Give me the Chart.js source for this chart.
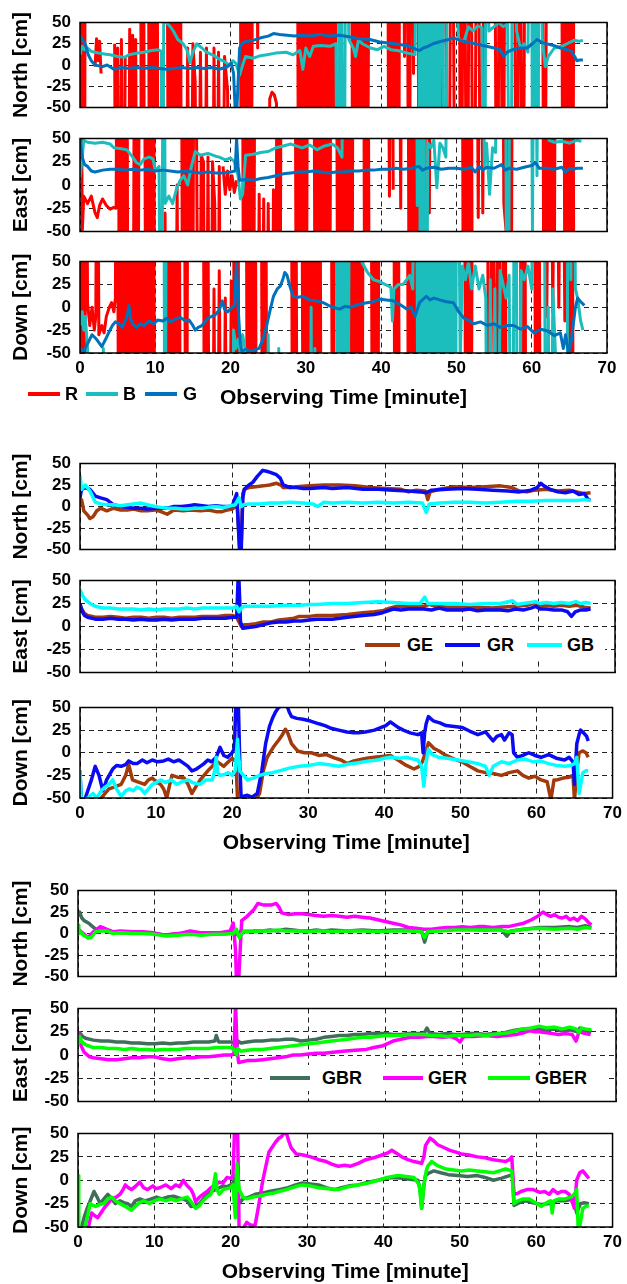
<!DOCTYPE html>
<html><head><meta charset="utf-8">
<script src="https://cdn.jsdelivr.net/npm/chart.js@4/dist/chart.umd.min.js"></script>
<style>
html,body{margin:0;padding:0;background:#fff;}
body{width:627px;height:1284px;position:relative;overflow:hidden;font-family:'Liberation Sans',Arial,sans-serif;}
canvas{position:absolute;left:0;}
.lg{position:absolute;height:22px;line-height:22px;font-size:18px;font-weight:bold;color:#000;white-space:nowrap;}
.ll{position:absolute;height:4px;}
.box{position:absolute;background:#fff;}
</style></head><body>
<script>
// ---------- tick labels / axes ----------
const X_TICKS = [0,10,20,30,40,50,60,70];
const Y_TICKS = [-50,-25,0,25,50];
const X_TITLE = 'Observing Time [minute]';

// ---------- Group 1 (R, B, G) ; +/-400 = off-scale ----------
const R1_N = [[0,400],[0.2,-400],[0.4,400],[0.6,-400],[0.7,400],null,
[2,-2],[2.2,31],[2.4,5],[2.6,28],[2.8,-10],null,
[4.6,25],[4.8,-400],[5,20],[5.2,-400],[5.5,30],[5.8,-400],[6,10],null,
[6.4,-400],[6.6,42],[6.8,-400],[7,35],[7.2,-400],[7.4,30],[7.6,-400],null,
[8,400],[8.2,-400],[8.4,400],[8.6,-400],null,
[9,400],[9.3,-400],[9.6,400],[9.9,-400],[10.2,400],[10.4,-400],null,
[11.5,400],[11.8,-400],[12.1,400],[12.4,-400],[12.7,400],[13,-400],[13.3,400],[13.5,-400],null,
[14,-400],[14.3,20],[14.6,-400],[15,25],[15.3,-20],[15.6,-400],[16,15],[16.4,-400],[16.8,20],[17,-400],null,
[17.5,-400],[17.8,20],[18.1,-400],[18.4,15],[18.8,-400],[19.2,10],[19.6,-30],[20,-400],null,
[21.2,400],[21.5,-400],[21.8,400],[22.1,-400],[22.4,400],[22.7,-400],[23,400],null,
[23.4,400],[23.6,20],[23.8,400],null,
[25,-400],[25.2,-40],[25.5,-32],[25.8,-35],[26.1,-45],[26.3,-400],null,
[28.8,400],[29.1,-400],[29.4,400],[29.7,-400],[30,400],[30.3,-400],[30.6,400],[30.9,-400],[31.2,400],[31.5,-400],[31.8,400],[32.1,-400],[32.4,400],[32.7,-400],[33,400],[33.3,-400],[33.6,400],[33.9,-400],[34.1,400],null,
[36,400],[36.3,-400],[36.6,400],[36.9,-400],[37.2,400],[37.5,-400],[37.8,400],[38.1,-400],[38.5,400],null,
[40.8,400],[41.1,-400],[41.4,400],[41.7,-400],[42,400],[42.3,-400],[42.5,400],null,
[42.8,400],[43.1,10],[43.4,400],[43.7,-400],[44,400],[44.3,-10],[44.5,400],null,
[44.8,400],[45.1,-400],[45.5,400],[45.9,-400],[46.4,400],[46.9,-400],[47.4,400],[47.9,-400],[48.4,400],[48.9,-400],[49.4,400],[49.9,-400],null,
[50.3,400],[50.6,-400],[51,400],[51.4,-400],[51.8,400],[52.3,-400],[52.8,400],[53.3,-400],[53.8,400],null,
[55,400],[55.4,-400],[55.8,400],[56.2,-400],[56.5,400],null,
[57.6,400],[58,-400],[58.4,400],[58.8,-400],[59.2,400],null,
[61.3,400],[61.7,-400],[62.1,400],null,
[63.9,400],[64.2,-400],[64.5,400],[64.8,-400],[65.1,400],[65.4,-400],[65.7,400]];

const B1_N = [[0,12],[0.3,22],[0.6,18],[1,20],[1.5,16],[2,15],[2.5,14],[3.2,13],[4,12],[5,10],[5.9,9],[6.5,12],[7.6,14],[8.5,15],[9.5,17],[10.4,18],[10.8,16],[11,-400],[11.2,400],[11.5,50],[12,45],[12.4,40],[13,30],[13.7,25],[14.2,18],[14.6,3],[15,15],[15.5,25],[16.2,20],[16.8,15],[17.6,12],[18.5,7],[19.2,4],[19.8,0],[20.3,5],[20.7,2],[21.2,-12],[21.6,0],[22,10],[23,8],[24,11],[24.8,12],[26,14],[27.4,15],[28.3,12],[29.2,17],[29.6,-5],[30,20],[30.5,10],[31,22],[32,23],[33.2,22],[34,25],[34.3,-400],[34.6,400],[35,-400],[35.4,400],[35.7,30],[36.3,20],[36.6,10],[37,30],[37.5,25],[38.6,20],[39.5,18],[40.4,22],[41.3,18],[42.2,17],[43.5,14],[44.5,12],[44.9,400],[45.2,-400],[45.5,400],[45.8,-400],[46.1,400],[46.4,-400],[46.8,400],[47.1,-400],[47.4,400],[47.7,-400],[48,400],[48.5,-400],[48.9,400],[49.4,70],[50,80],[50.3,30],[51,28],[51.6,45],[52.2,40],[52.8,46],[53.4,44],[53.7,-400],[54,400],[54.3,40],[55,45],[55.6,50],[56.2,45],[56.8,48],[57.2,-400],[57.5,400],[58,40],[58.5,20],[59,25],[59.5,15],[59.9,400],[60.2,-400],[60.5,400],[60.8,-400],[61,400],[61.4,30],[61.8,-2],[62.2,10],[63,20],[64,22],[64.7,25],[65.6,29],[66.3,28],[66.8,29]];

const G1_N = [[0,35],[0.3,30],[0.7,25],[1.1,12],[1.5,5],[2,0],[2.5,-1],[3,-2],[3.6,0],[4.5,-5],[5.5,-3],[6.5,-4],[7.5,-3],[8.5,-4],[9.5,-3],[10.5,-4],[11.5,-5],[12.5,-4],[13.5,-3],[14.5,-4],[15.5,-3],[16.5,-4],[17.5,-3],[18.5,-5],[19.6,-2],[20.1,2],[20.4,-10],[20.6,-50],[20.8,-60],[21,-20],[21.2,20],[21.5,25],[21.8,27],[23,29],[24,32],[25,34],[25.7,37],[26.5,36],[27.5,35],[28.5,34],[29.3,35],[30.5,34],[31.9,36],[33,34],[34.5,35],[35.9,33],[37,31],[38.5,30],[39.8,27],[41,26],[42.5,24],[43.8,22],[44.5,19],[45.1,17],[45.6,20],[46.2,22],[46.9,25],[48,28],[49,30],[49.6,32],[50.5,29],[51.4,27],[52.5,25],[54,22],[55,20],[55.8,18],[56.3,10],[56.7,15],[57.5,18],[58.5,20],[59.4,20],[60.1,25],[60.7,30],[61.5,26],[62.9,23],[63.8,20],[64.7,18],[65.3,16],[65.7,10],[66,5],[66.4,6],[66.8,6]];

const R1_E = [[0,400],[0.3,-50],[0.5,-12],[1,-20],[1.5,-12],[2,-30],[2.3,-35],[2.6,-22],[3,-15],[3.5,-22],[4,-26],[4.5,-24],[4.8,-25],[5,400],[5.3,-400],[5.6,400],[5.9,-400],[6.2,400],[6.4,-400],null,
[7,-400],[7.3,400],[7.6,-400],[8,400],null,
[8.5,400],[8.8,-400],[9.1,400],[9.4,-400],[9.7,400],[10,-400],null,
[10.8,-25],[11.1,-400],[11.3,-30],[11.5,-400],null,
[12.6,-400],[12.9,0],[13.2,-400],null,
[13.4,400],[13.7,-400],[14,400],[14.3,-400],[14.6,400],[14.9,-400],[15.2,400],[15.5,30],[15.8,-400],[16.1,32],[16.4,25],[16.7,-400],[17,30],[17.3,-400],[17.6,25],[17.9,-20],[18.2,-400],[18.5,20],[18.8,-400],null,
[19,20],[19.3,-10],[19.6,15],[19.9,-5],[20.2,10],[20.5,-8],[20.8,5],null,
[21.5,400],[21.8,-400],[22.1,400],[22.4,-400],[22.7,400],[23,-400],[23.3,400],null,
[23.5,-400],[23.8,-10],[24.1,-400],[24.4,-15],[24.7,-400],[25,-20],[25.4,-400],[25.7,-5],[26,-400],[26.2,400],[26.5,-400],[26.8,400],null,
[28.5,400],[28.8,-400],[29.1,400],[29.4,-400],[29.7,400],[30,-400],[30.3,400],null,
[31,400],[31.3,-400],[31.6,400],[31.9,-400],[32.2,400],[32.5,-400],[32.8,400],[33.1,-400],[33.4,400],null,
[34,400],[34.3,-400],[34.6,400],[34.9,-400],[35.2,400],[35.5,-400],[35.8,400],[36.1,-400],[36.3,400],null,
[37.6,400],[37.9,-400],[38.2,400],[38.5,-400],null,
[40.8,400],[41.1,-12],[41.4,400],[41.6,-5],null,
[42.3,400],[42.6,-25],[42.8,400],null,
[43.5,400],[43.8,-400],[44.1,400],[44.4,-400],[44.7,400],[45,-400],null,
[45.5,400],[45.8,-35],[46.1,400],[46.4,-30],[46.7,400],null,
[50.7,400],[51,-400],[51.3,400],[51.6,-400],[51.9,400],[52.2,-400],null,
[52.6,400],[52.9,-35],[53.2,400],[53.5,-30],[53.8,400],null,
[56,400],[56.3,-20],[56.6,-50],[56.9,400],[57.2,-400],[57.5,400],null,
[61.4,400],[61.7,-400],[62,400],[62.3,-400],[62.6,400],[62.9,-400],[63.2,400],null,
[64.2,400],[64.5,-400],[64.8,400],[65.1,-400],[65.4,400],[65.7,-400]];

const B1_E = [[0,8],[0.3,30],[0.5,48],[1,46],[2,45],[3,46],[4,44],[4.5,40],[5.5,39],[6.2,38],[7,30],[7.5,24],[8,22],[8.5,28],[9.2,30],[9.7,28],[10,15],[10.5,20],[10.8,-400],[11.1,400],[11.3,-20],[11.8,-12],[12.3,-20],[12.8,-5],[13.3,5],[13.8,10],[14.3,0],[14.8,20],[15.3,36],[16,32],[17,34],[18,31],[18.5,30],[19.3,27],[20,29],[20.5,25],[21,10],[21.3,-15],[21.6,-10],[22,32],[23,33],[24,35],[25,36],[26,40],[27,42],[28,44],[29.5,40],[30.5,43],[31.5,38],[32.5,42],[33.5,44],[34.2,40],[34.8,30],[35.2,400],null,
[44.6,400],[44.8,-22],[45,400],[45.3,-400],[45.6,400],[45.9,-400],[46.2,45],[46.6,40],[47,48],[47.4,-3],[47.8,45],[48.2,40],[48.6,30],[48.9,400],null,
[53.4,400],[53.7,20],[54,45],[54.4,-10],[54.8,40],[55.2,35],[55.5,400],null,
[56.4,400],[56.8,-400],[57.2,400],null,
[59.8,400],[60.1,-50],[60.4,400],[60.7,10],[61,400],null,
[61.9,400],[62.3,48],[63,46],[64,47],[65,45],[66,48],[66.6,47]];

const G1_E = [[0,50],[0.3,30],[0.6,22],[1,20],[1.5,15],[2,14],[3,16],[4,17],[5,17],[6,16],[7,17],[8,16],[9,17],[10,15],[11,16],[12,15],[13,14],[14,15],[15,14],[16,13],[17,14],[18,13],[19,13],[20,14],[20.6,15],[20.8,50],[21,20],[21.2,5],[22,6],[23,5],[24,7],[25,8],[26,10],[27,12],[28,13],[29,14],[30,14],[31,15],[32,14],[33,13],[34,14],[35,14],[36,15],[37,15],[38,16],[39,16],[40,17],[41,17],[42,18],[43,17],[44,18],[45,20],[45.5,16],[46,18],[47,19],[48,17],[49,18],[50,18],[51,17],[52,19],[52.5,14],[53,20],[53.5,16],[54,19],[55,18],[56,22],[56.5,16],[57,18],[58,17],[59,19],[60,21],[60.5,24],[61,18],[62,18],[63,17],[64,19],[64.5,14],[65,18],[65.5,17],[66,18],[66.8,18]];

const R1_D = [[0,400],[0.2,-400],[0.4,400],[0.6,-400],[0.8,400],[1,5],[1.3,-20],[1.6,0],[1.9,-25],[2.1,-10],[2.3,400],[2.5,-30],[2.9,-20],[3.2,-28],[3.5,-10],[3.9,0],[4.2,5],[4.5,-5],[4.7,10],[4.9,400],[5.2,-400],[5.5,400],[5.8,-400],[6.1,400],[6.4,-400],[6.7,400],[7,-400],[7.3,400],[7.6,-400],[7.9,400],[8.2,-400],[8.5,400],[8.8,-400],[9.1,400],[9.4,-400],[9.7,400],[10,-400],null,
[11.3,400],[11.6,-400],[11.9,400],[12.2,-400],[12.5,400],[12.8,-400],[13.1,400],[13.4,-400],null,
[13.8,400],[14.1,-400],[14.4,400],null,
[16.3,400],[16.6,-400],[16.9,400],[17.2,-400],null,
[17.5,-400],[17.8,20],[18.1,-400],[18.5,40],[18.9,-400],[19.3,10],[19.7,-400],[20.1,30],null,
[20.3,400],[20.6,-400],[20.9,400],[21.2,-400],null,
[22,400],[22.3,-400],[22.6,400],[22.9,-400],[23.2,400],[23.5,-400],null,
[24,400],[24.3,-400],[24.6,400],[24.9,-400],null,
[28,400],[28.3,-400],[28.6,400],[28.9,-400],null,
[29.4,400],[29.7,-400],[30,400],[30.3,-400],[30.6,400],[30.9,-400],[31.2,400],[31.5,-400],[31.8,400],[32.1,-400],null,
[33.3,400],[33.6,-400],[33.9,400],null,
[35.9,400],[36.2,-400],[36.5,400],[36.8,-400],[37.1,400],[37.4,-400],[37.7,400],null,
[38.6,400],[38.9,-400],[39.2,400],[39.5,-400],[39.8,400],null,
[41.6,400],[41.9,-400],[42.2,400],[42.5,-400],null,
[43.4,400],[43.7,-400],[44,400],[44.3,-400],[44.6,400],null,
[48.4,400],[48.7,-20],[49,400],[49.3,-40],null,
[51,400],[51.3,-400],[51.6,400],[51.9,-400],[52.2,400],null,
[54,400],[54.4,-400],[54.8,400],[55.2,-400],[55.6,400],[56,-400],[56.4,400],[56.7,-400],null,
[58.4,400],[58.7,-400],[59,400],[59.3,-400],null,
[60.3,400],[60.6,-400],[60.9,400],[61.2,-400],null,
[61.6,400],[62,-10],[62.4,400],[62.8,-5],[63.2,400],[63.6,0],[64,400],[64.4,-15],[64.7,400],[65,-400],[65.3,400],[65.6,-400]];

const B1_D = [[0,-20],[0.3,-5],[0.5,-25],[0.7,-10],[1,-45],[1.2,-400],null,
[2.9,-400],[3.1,-45],[3.3,-400],null,
[11.1,400],[11.3,-400],[11.5,400],null,
[20.2,-400],[20.4,-25],[20.7,-45],[21,-35],[21.3,-50],[21.6,-30],[21.9,-45],[22.1,-400],null,
[24.7,-400],[25,-30],[25.3,-400],null,
[26.2,-400],[26.4,-45],[26.6,-400],null,
[30.5,-400],[30.7,0],[30.9,-400],[31.2,-45],[31.5,-400],null,
[34,400],[34.3,-400],[34.6,400],[34.9,-400],[35.2,400],[35.5,-400],[35.9,400],null,
[37.2,400],[37.4,50],[38.2,38],[39,30],[39.8,28],[40.5,25],[41.3,22],[41.5,-15],[41.7,20],[42.3,25],[42.9,25],[43.4,30],[43.8,35],[44.2,20],[44.6,400],[45,-400],[45.3,400],[45.6,-400],[45.9,400],[46.2,-400],[46.5,400],[46.8,-400],[47.1,400],[47.4,-400],[47.7,400],[48,-400],[48.3,400],[48.6,-400],[48.9,400],[49.2,-400],[49.5,400],[49.8,-400],[50.1,400],[50.5,-60],[50.8,45],[51.2,30],[51.6,50],[52,20],[52.5,45],[53,20],[53.5,35],[53.9,10],[54.2,-400],[54.5,30],[54.8,-400],[55.1,20],[55.5,-400],[55.8,40],[56.2,25],[56.6,10],[57,35],[57.4,-400],[57.8,400],[58.2,-400],[58.6,40],[59,30],[59.5,45],[60,20],[60.5,400],null,
[61.6,400],[61.9,-400],[62.2,0],[62.5,-400],[62.8,20],[63.2,-60],null,
[64.6,-400],[64.9,400],[65.2,30],[65.5,400],[65.8,20],[66.1,10],[66.5,-15],[66.8,-25]];

const G1_D = [[0,-45],[0.5,-48],[1,-40],[1.6,-30],[2.2,-35],[2.9,-43],[3.4,-35],[3.8,-28],[4.3,-20],[4.7,-16],[5.2,-18],[5.6,-22],[6,-15],[6.3,-8],[6.5,2],[6.7,-12],[7,-18],[7.5,-22],[8,-18],[8.5,-20],[9.2,-15],[9.8,-18],[10.3,-14],[11,-15],[11.5,-12],[12,-16],[12.7,-13],[13.3,-11],[14,-15],[14.5,-14],[15,-20],[15.3,-25],[15.7,-22],[16.2,-20],[17,-12],[17.5,-10],[18,-8],[18.5,-3],[18.9,7],[19.2,-2],[19.6,-5],[20.2,0],[20.5,2],[20.8,50],[21,0],[21.3,-40],[21.5,-48],[22,-46],[22.8,-48],[23.4,-46],[23.8,-45],[24.3,-35],[24.8,-20],[25.2,-5],[25.7,12],[26.2,20],[26.6,23],[27,32],[27.2,38],[27.5,35],[27.8,25],[28.3,12],[29,11],[29.6,12],[30.5,8],[31.4,7],[32.3,5],[33,2],[33.6,0],[34.5,-2],[35.2,1],[35.9,0],[37,3],[38.1,5],[39,6],[39.8,9],[40.7,8],[41.6,7],[42.5,3],[43.4,-2],[44,0],[44.5,-10],[45.1,5],[46,12],[46.5,8],[47,10],[47.8,8],[48.7,6],[49.6,5],[50.3,-5],[51,-12],[51.6,-14],[52.3,-18],[53.2,-16],[54.1,-20],[55,-18],[55.8,-22],[56.7,-20],[57.6,-20],[58.5,-24],[59.4,-21],[60.3,-28],[61.2,-24],[62.1,-26],[63,-31],[63.8,-28],[64.2,-45],[64.5,-30],[64.9,-50],[65.2,-40],[65.5,-20],[65.8,0],[66.1,10],[66.5,6],[67,2]];

// ---------- Group 2 (GE, GR, GB) ----------
const GE2_N = [[0,0],[0.2,8],[0.5,-5],[1,-10],[1.3,-14],[1.7,-12],[2.2,-5],[2.7,-2],[3.5,-5],[4.4,-2],[5.3,-4],[6.2,-4],[7,-3],[8,-5],[8.8,-5],[9.8,-4],[10.6,-6],[11.4,-9],[12.3,-4],[13.5,-5],[14.5,-4],[15.8,-5],[16.8,-4],[17.8,-6],[18.6,-6],[19.3,-4],[19.9,-3],[20.4,0],[20.6,-2],[20.9,-50],[21.1,-40],[21.3,15],[21.5,20],[22.1,22],[23,23],[24,24],[24.8,25],[25.7,27],[26.3,25],[26.6,22],[27.5,22],[28.3,23],[30,24],[32,25],[34,25],[36,24],[38,22],[40,21],[42,20],[43,17],[44,19],[45.2,18],[45.5,8],[45.8,17],[47,20],[49,23],[51,22],[53,23],[55,24],[56.5,22],[57.5,18],[58.5,17],[59.5,19],[61,20],[62.5,18],[64,19],[65,17],[66,15],[66.8,16]];
const GR2_N = [[0,10],[0.2,20],[0.7,22],[1.3,20],[2,12],[2.7,10],[3.5,8],[4.4,2],[5.3,0],[6.2,-1],[7,-2],[8,-2],[8.8,-3],[10,-2],[11.4,-2],[12.3,0],[13.3,0],[14.2,1],[15,2],[16,1],[16.8,0],[17.8,1],[18.6,0],[19.9,0],[20.3,10],[20.5,15],[20.7,-20],[20.9,-55],[21.1,-50],[21.3,10],[21.5,20],[22.1,25],[22.6,28],[23.2,35],[23.9,42],[24.4,41],[24.8,40],[25.7,37],[26.2,33],[26.6,25],[27.5,22],[28.3,22],[29.2,21],[30.1,21],[31.9,22],[33,21],[35,22],[37,20],[39,20],[41,19],[43,18],[44.5,17],[45.3,16],[46,19],[48,20],[50,21],[52,20],[54,19],[56,18],[57.5,17],[59,19],[59.8,22],[60.3,27],[60.7,24],[61.5,20],[62.5,17],[63.5,16],[64.5,18],[65.3,14],[66,15],[66.5,8],[66.8,7]];
const GB2_N = [[0,36],[0.2,20],[0.7,25],[1.3,18],[2,5],[2.7,3],[3.5,2],[4.4,2],[5.3,1],[6.2,2],[7,3],[8,4],[8.8,2],[9.8,0],[10.6,-1],[11.4,-2],[12.5,-2],[13.5,-3],[14.1,-3],[15,-2],[16,-2],[16.8,-1],[17.8,0],[18.6,-1],[19.4,0],[20.3,2],[20.8,10],[21.1,0],[21.4,2],[22.1,3],[23.5,3],[24.8,4],[26,4],[27.5,5],[29.2,4],[30.5,3],[31.1,0],[31.9,5],[33,4],[35,5],[37,4],[39,5],[41,4],[43,5],[44.8,4],[45.3,-7],[45.7,3],[47,4],[49,5],[51,5],[53,4],[55,5],[57,6],[59,6],[61,7],[63,7],[65,7],[66,8],[66.8,7]];

const GE2_E = [[0,22],[0.3,18],[0.6,14],[1,12],[2,10],[3,10],[4,11],[5,10],[6,9],[7,10],[8,10],[9,9],[10,10],[11,10],[12,9],[13,10],[14,10],[15,10],[16,11],[17,11],[18,11],[19,12],[20,12],[20.5,10],[20.8,5],[21.1,0],[21.5,2],[22,2],[23,3],[24,5],[25,5],[26,7],[27,8],[28,9],[28.7,11],[30,11],[31,12],[33,12],[35,13],[37,15],[38.5,16],[39.6,17],[40.5,20],[41.5,22],[43,22],[45,22],[45.7,24],[46.5,22],[48,21],[50,21],[52,21],[54,20],[55,21],[57,22],[58.5,23],[59.6,26],[60.2,22],[61,23],[62,22],[63,23],[64,22],[65,23],[66,21],[66.8,20]];
const GR2_E = [[0,25],[0.3,16],[0.6,12],[1,10],[2,8],[3,8],[4,9],[5,8],[6,8],[7,7],[8,8],[9,7],[10,7],[11,8],[12,7],[13,8],[14,8],[15,8],[16,9],[17,9],[18,9],[19,9],[20,10],[20.5,10],[20.7,55],[20.8,50],[21,5],[21.3,-2],[22,-1],[23,0],[24,2],[25,4],[26,5],[27,5],[28,6],[29,6],[30,7],[31,8],[33,8],[35,10],[37,12],[38.5,13],[39.6,15],[41,19],[42,18],[43,19],[45,19],[46,18],[47,20],[48,18],[50,18],[51,19],[52,17],[53,18],[55,18],[56,17],[57,19],[58,18],[59,20],[59.6,22],[60.2,19],[61,19],[62,18],[63,18],[63.8,16],[64.3,11],[64.8,16],[65.5,18],[66.2,18],[66.8,19]];
const GB2_E = [[0,40],[0.3,34],[0.6,30],[1,27],[1.5,24],[2,22],[3,20],[4,20],[5,19],[6,19],[7,19],[8,18],[9,19],[10,18],[11,19],[12,19],[13,19],[14,20],[15,19],[16,20],[17,20],[18,20],[19,20],[20,20],[20.5,22],[20.8,16],[21.1,20],[21.5,22],[23,22],[25,22],[27,23],[28.7,23],[30,24],[31,24],[33,25],[35,25],[37,26],[39,27],[41,26],[43,25],[44.5,25],[45.1,32],[45.5,25],[47,25],[49,25],[51,24],[53,25],[55,25],[56.6,28],[57.2,24],[58,25],[59.6,27],[60.2,25],[61,26],[62,25],[63,26],[64,25],[64.9,27],[65.5,25],[66.2,26],[66.8,25]];

const GE2_D = [[0,-60],[2.5,-55],[2.8,-50],[3.3,-45],[3.8,-40],[4.5,-38],[5.4,-35],[6,-25],[6.4,-13],[6.9,-30],[7.5,-32],[8.5,-35],[9,-30],[9.5,-28],[10,-32],[10.6,-35],[11,-40],[11.4,-50],[11.8,-35],[12.1,-25],[12.8,-27],[13.7,-28],[14.2,-35],[14.7,-45],[15.2,-38],[15.8,-30],[16.3,-25],[16.8,-20],[17.4,-15],[17.9,-9],[18.4,-12],[18.9,-15],[19.5,-10],[20,-6],[20.5,-10],[20.7,-50],[21,-60],[22,-60],[23.1,-52],[23.6,-45],[24.1,-20],[24.6,-5],[25.4,6],[26.2,15],[26.6,20],[27,26],[27.3,22],[27.8,10],[28.6,2],[29.5,0],[30.4,0],[31.4,-3],[32.4,-2],[33.5,-6],[34.3,-8],[35.1,-12],[36,-9],[36.6,-8],[37.7,-6],[38.7,-5],[39.7,-4],[40.8,-3],[41.8,-8],[42.9,-14],[43.9,-18],[44.6,-15],[45,-10],[45.4,0],[45.8,11],[46.5,5],[47.2,2],[48.1,-3],[49.2,-7],[50.2,-10],[51.2,-15],[52.3,-20],[53.3,-22],[54.3,-23],[55.4,-25],[56.4,-22],[57.5,-20],[58.2,-25],[59,-28],[59.8,-26],[60.6,-30],[61.4,-32],[61.9,-52],[62.3,-30],[62.7,-30],[63.5,-28],[64.3,-27],[64.8,-25],[65,-52],[65.3,-20],[65.6,0],[66.1,2],[66.5,0],[66.8,-5]];
const GR2_D = [[0,-20],[0.15,-50],[0.5,-55],[0.9,-45],[1.5,-30],[2,-15],[2.5,-25],[3,-42],[3.5,-30],[4.3,-18],[4.8,-14],[5.4,-15],[6,-13],[6.4,-9],[7,-12],[7.5,-12],[8.2,-8],[8.8,-11],[9.5,-8],[10.2,-10],[11,-9],[11.6,-7],[12.3,-10],[13,-8],[13.7,-12],[14.2,-15],[14.7,-20],[15.3,-18],[15.8,-15],[16.3,-12],[16.8,-8],[17.3,-10],[17.9,-5],[18.4,6],[18.9,-3],[19.4,-5],[20,0],[20.3,5],[20.5,60],[20.8,60],[21,-10],[21.2,-55],[21.5,-48],[22,-47],[22.6,-49],[23.3,-45],[23.9,-20],[24.4,10],[24.9,29],[25.3,38],[25.7,45],[26.1,50],[26.5,52],[27,52],[27.3,50],[27.5,45],[27.8,40],[28.5,38],[29.3,37],[30.3,35],[31.4,32],[32.2,30],[33,27],[34,25],[35.1,23],[36,22],[36.6,22],[37.5,23],[38.7,25],[39.6,28],[40.2,30],[40.8,34],[41.3,31],[41.8,28],[42.5,25],[43.4,22],[44.4,20],[44.9,22],[45.1,0],[45.3,22],[45.5,32],[45.8,40],[46.2,37],[46.5,35],[47.3,33],[48.1,30],[49.2,29],[50.2,28],[51.2,24],[52.3,20],[53.3,23],[54.3,13],[54.8,18],[55.4,20],[55.8,14],[56.4,22],[56.8,20],[57,0],[57.5,-5],[58.2,-3],[59,0],[59.8,-3],[60.6,-5],[61.6,-2],[62.6,-6],[63.7,-8],[64.3,-5],[64.8,-10],[65,-35],[65.3,10],[65.6,20],[65.8,25],[66.2,22],[66.6,18],[66.8,13]];
const GB2_D = [[0,-20],[0.15,-50],[0.5,-52],[1,-50],[1.7,-45],[2.2,-50],[2.8,-42],[3.3,-38],[3.8,-35],[4.3,-30],[4.8,-40],[5.4,-48],[6,-42],[6.5,-40],[7,-42],[7.5,-38],[8,-40],[8.5,-45],[9,-40],[9.5,-35],[10,-33],[10.6,-30],[11.2,-33],[12,-30],[12.7,-35],[13.4,-32],[14.2,-30],[14.8,-33],[15.8,-35],[16.5,-30],[17.4,-30],[17.7,-20],[17.9,-5],[18.1,-22],[18.4,-25],[19,-24],[19.5,-22],[20,-25],[20.4,-20],[20.7,15],[20.9,-10],[21,-20],[21.5,-25],[22,-30],[22.8,-28],[23.6,-25],[24.5,-23],[25.3,-22],[26.2,-20],[27.5,-17],[28.8,-15],[30,-14],[31.4,-12],[32.5,-13],[34,-15],[35,-13],[36.6,-11],[38,-9],[39.2,-8],[40,-6],[40.8,-5],[42,-6],[42.9,-5],[43.8,-7],[44.4,-8],[44.9,-15],[45.2,-37],[45.5,-10],[45.8,4],[46.3,-2],[47.1,-5],[48.2,-6],[49.7,-8],[51,-10],[52.3,-12],[53.3,-15],[53.8,-25],[54.3,-15],[55.4,-10],[56.4,-12],[57.5,-8],[58.5,-7],[59.6,-10],[60.5,-9],[61.6,-12],[62.6,-14],[63.7,-15],[64.5,-14],[65,-12],[65.3,-5],[65.6,-45],[66.1,-22],[66.5,-20],[66.8,-20]];

// ---------- Group 3 (GBR, GER, GBER) ----------
const GBR3_N = [[0,20],[0.2,25],[0.5,18],[0.8,15],[1.4,12],[1.9,8],[2.3,5],[2.9,5],[3.5,3],[4.5,2],[5.5,1],[7,1],[8.5,1],[10,0],[11.5,-2],[13,0],[14.5,0],[16,0],[17.5,0],[19,0],[20,1],[20.5,3],[20.8,-2],[21.2,3],[22,2],[23,3],[24,3],[25,4],[26,3],[27,5],[28,4],[29,3],[30,3],[31,4],[32,3],[33,4],[35,3],[37,4],[39,3],[41,4],[43,4],[44.7,3],[45.1,-10],[45.5,2],[47,4],[49,5],[51,5],[53,4],[55,5],[55.8,-3],[56.3,3],[58,5],[60,7],[62,7],[64,8],[65,7],[66,9],[66.8,7]];
const GER3_N = [[0,5],[0.7,0],[1.3,-5],[2,2],[2.9,8],[3.7,5],[4.6,2],[5.5,3],[7.2,2],[8.5,2],[9.8,1],[11.1,-2],[12.2,-1],[13.3,0],[14.6,3],[15.9,1],[17.2,1],[18.5,1],[19.8,3],[20.2,12],[20.5,-20],[20.6,-50],[20.9,-55],[21.1,-20],[21.3,15],[22,20],[22.9,28],[23.4,35],[24.2,33],[25.1,33],[25.8,35],[26.2,30],[26.5,24],[27.4,22],[28.3,23],[29.1,23],[30,22],[30.9,21],[32,20],[33,21],[34,20],[35,19],[36,20],[37,19],[38,18],[39,16],[40,14],[41,12],[42,10],[43,7],[44,6],[45,5],[46,5],[47,6],[48,7],[49,7],[50,8],[51,7],[52,8],[53,8],[54,7],[55,8],[56,8],[57,10],[58,12],[59,16],[59.8,20],[60.5,25],[61,22],[61.5,20],[62,22],[62.5,19],[63,18],[63.5,20],[64,16],[64.5,18],[65,15],[65.5,20],[66,17],[66.5,12],[66.8,10]];
const GBER3_N = [[0,10],[0.1,0],[0.3,2],[0.7,-2],[1.3,-5],[1.7,-5],[2.3,2],[3,3],[3.7,3],[4.6,0],[5.5,1],[7,0],[8.5,0],[10,-1],[11.5,-3],[13,-2],[14.5,-1],[16,-2],[17.5,-1],[19,-1],[20.2,0],[20.6,5],[21,-5],[21.5,2],[22,3],[23,2],[24,3],[25,3],[26,4],[27,3],[28,3],[29,3],[30,2],[31,3],[32,3],[33,2],[35,3],[37,3],[39,2],[41,3],[43,3],[44.7,2],[45.1,-5],[45.5,2],[47,3],[49,4],[51,4],[53,4],[55,4],[56,2],[58,5],[60,6],[62,5],[64,6],[65,5],[66,7],[66.8,6]];

const GBR3_E = [[0,18],[0.2,24],[0.6,20],[1,18],[2,16],[3,15],[4,15],[5,14],[6,14],[7,13],[8,13],[9,12],[10,12],[11,13],[12,12],[13,13],[14,13],[15,14],[16,14],[17,14],[17.8,15],[18,21],[18.3,14],[19,14],[20,14],[20.4,12],[20.6,6],[20.8,15],[21.2,13],[22,14],[23,15],[24,15],[25,16],[26,16],[27,17],[28,17],[29,15],[30,16],[31,17],[32,19],[33,20],[34,21],[35,21],[36,22],[37,22],[38,23],[39,23],[40,23],[41,22],[42,22],[43,23],[44,23],[45,23],[45.4,29],[45.8,23],[47,22],[48,23],[49,22],[50,22],[51,23],[52,23],[53,22],[54,23],[55,23],[56,25],[57,27],[58,28],[59,28],[60,28],[61,27],[62,28],[63,26],[64,27],[65,25],[65.3,29],[65.6,26],[66,26],[66.8,25]];
const GER3_E = [[0,25],[0.2,20],[0.4,10],[0.8,3],[1.5,-2],[2,-3],[3,-4],[4,-5],[5,-5],[6,-4],[7,-3],[8,-3],[9,-2],[10,-2],[11,-4],[12,-5],[13,-4],[14,-3],[15,-3],[16,-2],[17,-2],[18,-1],[19,0],[20,0],[20.3,2],[20.5,55],[20.7,5],[20.9,-8],[21.5,-7],[22,-6],[23,-6],[24,-5],[25,-4],[26,-3],[27,-2],[28,0],[28.9,0],[30,1],[31,2],[32,2],[33.2,3],[34.5,4],[36,5],[37.5,6],[38.5,8],[39.7,10],[41,15],[42,17],[43.2,19],[44.5,19],[45.5,20],[46.2,20],[47.5,19],[48.5,20],[49.3,17],[49.7,14],[50.1,19],[50.5,20],[51.5,20],[53.1,21],[54.5,20],[55.7,21],[57,22],[58,24],[58.7,26],[59.5,25],[60,25],[61,24],[61.8,23],[62.5,22],[63.5,23],[64.3,22],[64.8,15],[65.2,25],[66,23],[66.7,22]];
const GBER3_E = [[0,10],[0.2,20],[0.5,14],[1,11],[2,8],[3,8],[4,7],[5,7],[6,6],[7,7],[8,6],[9,6],[10,5],[11,6],[12,6],[13,6],[14,7],[15,7],[16,7],[17,7],[18,8],[19,8],[20,8],[20.4,5],[20.6,0],[20.8,7],[21.2,4],[22,5],[23,6],[24,6],[25,7],[26,8],[27,9],[28,10],[29,11],[30,12],[31,13],[32,14],[33,15],[34,16],[35,17],[36,18],[37,19],[38,19],[39,20],[40,21],[41,21],[42,21],[43,22],[44,22],[45,22],[46,21],[47,21],[48,20],[49,21],[50,21],[51,21],[52,22],[53,21],[54,22],[55,23],[56,24],[57,26],[58,28],[59,29],[60,31],[61,29],[62,30],[63,28],[64,30],[64.8,28],[65.2,24],[65.5,29],[66,28],[66.8,27]];

const GBR3_D = [[0,-50],[0.3,-55],[0.8,-40],[1.2,-30],[1.6,-22],[2.1,-12],[2.5,-18],[2.9,-25],[3.4,-20],[3.9,-15],[4.4,-20],[4.9,-25],[5.5,-22],[6,-24],[6.5,-25],[7,-28],[7.5,-22],[8.1,-20],[8.8,-22],[9.6,-20],[10.3,-18],[11,-20],[11.7,-18],[12.5,-17],[13.2,-19],[13.8,-20],[14.3,-22],[14.8,-28],[15.3,-27],[15.9,-25],[16.4,-20],[16.9,-15],[17.5,-12],[18,-10],[18.5,-8],[19,-6],[19.5,-7],[20,-5],[20.3,-3],[20.6,5],[20.9,-10],[21.1,-25],[21.6,-20],[22.4,-18],[23.2,-15],[24,-14],[25,-12],[26.3,-10],[27.5,-8],[28.5,-5],[29.4,-3],[30.4,-4],[31.5,-5],[32.5,-8],[33.6,-10],[34.5,-8],[35.5,-6],[36.7,-5],[38,-2],[39.3,0],[40.3,2],[41.4,3],[42.4,2],[43.5,1],[44.5,0],[44.8,-10],[45,-30],[45.3,-5],[45.5,5],[46,8],[46.6,10],[47.5,8],[48.5,6],[49.7,5],[51,4],[52.3,5],[53.3,3],[54.4,0],[55.4,2],[56.5,5],[56.9,5],[57.1,-27],[57.8,-24],[58.6,-22],[59.6,-24],[60.6,-26],[61.7,-25],[62.7,-22],[63.8,-22],[64.8,-20],[65.1,-28],[65.3,-35],[65.8,-25],[66.3,-24],[66.9,-25]];
const GER3_D = [[0,-60],[1.2,-60],[1.5,-45],[1.8,-35],[2.2,-38],[2.6,-40],[3,-35],[3.4,-30],[3.9,-25],[4.4,-20],[5,-18],[5.5,-15],[5.9,-10],[6.2,-5],[6.6,-8],[7,-10],[7.6,-6],[8.1,-2],[8.6,-8],[9.1,-10],[9.8,-6],[10.2,-9],[10.7,-8],[11.5,-5],[12.2,-9],[12.8,-5],[13.3,-7],[13.8,0],[14.3,-6],[14.8,-10],[15.1,-15],[15.4,-23],[15.9,-18],[16.4,-15],[16.9,-12],[17.4,-8],[18,-5],[18.5,-2],[19,-3],[19.5,3],[20,2],[20.3,5],[20.5,55],[20.9,55],[21.1,-55],[21.6,-52],[22.1,-45],[22.6,-48],[23.2,-48],[23.7,-25],[24.2,0],[24.6,15],[25,30],[25.4,35],[25.8,40],[26.3,45],[26.7,47],[27.1,52],[27.3,50],[27.6,42],[27.9,35],[28.6,28],[29.5,27],[30.5,25],[31.5,22],[32.5,20],[33.3,17],[34.1,15],[34.9,16],[35.7,15],[36.7,18],[37.7,22],[38.7,24],[39.8,27],[40.5,29],[41.1,32],[41.7,29],[42.4,25],[43.2,22],[44,20],[44.6,19],[45,18],[45.3,25],[45.5,37],[46.1,45],[46.6,42],[47.1,38],[47.9,35],[48.7,32],[49.5,30],[50.2,28],[51.2,27],[52.3,25],[53.3,24],[54.4,22],[55.2,21],[56,20],[56.5,22],[56.8,25],[57.1,-15],[57.6,-14],[58,-12],[58.8,-10],[59.6,-10],[60.5,-13],[61.1,-12],[61.7,-15],[62.2,-10],[62.8,-14],[63.3,-12],[63.8,-12],[64.3,-15],[64.8,-25],[65,-30],[65.3,0],[65.7,8],[66.1,10],[66.5,6],[66.9,2]];
const GBER3_D = [[0,5],[0.1,-55],[0.8,-55],[1.2,-40],[1.6,-25],[2,-27],[2.3,-28],[2.8,-26],[3.4,-25],[3.9,-20],[4.4,-18],[4.9,-22],[5.5,-25],[6.2,-28],[7,-32],[7.6,-27],[8.1,-24],[8.6,-22],[9.4,-25],[10,-22],[10.7,-20],[11.5,-22],[12.2,-20],[12.8,-22],[13.5,-20],[14.3,-18],[14.9,-24],[15.4,-30],[15.9,-27],[16.4,-22],[16.9,-18],[17.4,-15],[17.7,-8],[18,7],[18.2,-10],[18.5,-15],[19,-10],[19.5,-9],[20,-8],[20.3,-5],[20.6,-40],[20.8,18],[21,0],[21.1,-10],[21.6,-18],[22.1,-20],[22.9,-18],[23.7,-17],[24.7,-15],[25.5,-14],[26.3,-12],[27.3,-10],[28.4,-7],[29.4,-5],[30.4,-6],[31.5,-8],[32.8,-9],[34.1,-10],[35.4,-7],[36.7,-5],[38,-3],[39.3,0],[40.5,3],[41.9,5],[43,4],[44,3],[44.7,-5],[45,-30],[45.3,-5],[45.6,10],[45.8,15],[46.3,20],[47,16],[48.2,12],[49.2,11],[50.2,10],[51.2,11],[52.3,10],[53.3,9],[54.4,8],[55.2,10],[56,12],[56.8,10],[57.1,-25],[57.6,-22],[58.3,-20],[59.1,-20],[59.9,-24],[60.7,-28],[61.4,-24],[61.9,-22],[62.1,-35],[62.3,-22],[63,-20],[63.8,-20],[64.5,-18],[65,-15],[65.3,-10],[65.5,-52],[65.7,-50],[66.1,-30],[66.5,-28],[66.9,-27]];

// ---------- styling / layout (separate from data) ----------
const COL = {R:'#FF0000',B:'#1CBDBD',G:'#0072BD',GE:'#A23A0C',GR:'#0A0AF5',GB:'#00FFFF',GBR:'#3F6E5A',GER:'#FF00FF',GBER:'#00FF00'};
const FONT = "'Liberation Sans', Arial, sans-serif";
const W = 627;
const PANELS = [
 {L:80,R:607,T:17, B:113, t:'North [cm]', lw:3,   sets:[[G1_N,'G'],[B1_N,'B'],[R1_N,'R']]},
 {L:80,R:607,T:133,B:237, t:'East [cm]',  lw:3,   sets:[[G1_E,'G'],[B1_E,'B'],[R1_E,'R']]},
 {L:80,R:607,T:256,B:353, t:'Down [cm]',  lw:3,   sets:[[G1_D,'G'],[B1_D,'B'],[R1_D,'R']], bottom:true},
 {L:80,R:615,T:458,B:555, t:'North [cm]', lw:3.5, sets:[[GB2_N,'GB'],[GR2_N,'GR'],[GE2_N,'GE']]},
 {L:80,R:615,T:575,B:678, t:'East [cm]',  lw:3.5, sets:[[GB2_E,'GB'],[GR2_E,'GR'],[GE2_E,'GE']]},
 {L:80,R:615,T:702,B:798, t:'Down [cm]',  lw:3.5, sets:[[GB2_D,'GB'],[GR2_D,'GR'],[GE2_D,'GE']], bottom:true},
 {L:78,R:616,T:885,B:982, t:'North [cm]', lw:3.5, sets:[[GBER3_N,'GBER'],[GER3_N,'GER'],[GBR3_N,'GBR']]},
 {L:78,R:616,T:1003,B:1107,t:'East [cm]', lw:3.5, sets:[[GBER3_E,'GBER'],[GER3_E,'GER'],[GBR3_E,'GBR']]},
 {L:78,R:616,T:1128,B:1227,t:'Down [cm]', lw:3.5, sets:[[GBER3_D,'GBER'],[GER3_D,'GER'],[GBR3_D,'GBR']], bottom:true},
];
const LEGENDS = [
 {box:null, y:394, items:[['R',28,60,65],['B',86,118,123],['G',145,177,183]]},
 {box:[358,633,605,658], y:645, items:[['GE',365,400,407],['GR',445,480,487],['GB',527,562,567]]},
 {box:[262,1065,608,1091], y:1078, items:[['GBR',270,310,322],['GER',383,423,428],['GBER',488,530,535]]},
];

function toXY(arr){
  const out=[]; let last=0;
  for(const p of arr){
    if(p===null){ out.push({x:last+0.01,y:null}); }
    else { out.push({x:p[0],y:p[1]}); last=p[0]; }
  }
  return out;
}
function fixTicks(s, list){
  s.ticks = list.map(v=>({value:v, label:String(v)}));
  s._labelSizes = null;
}

const framePlugin = {
  id:'frame',
  afterDatasetsDraw(chart){
    const a=chart.chartArea, c=chart.ctx;
    c.save(); c.strokeStyle='#000'; c.lineWidth=1.5;
    c.strokeRect(a.left,a.top,a.right-a.left,a.bottom-a.top);
    c.restore();
  }
};

const PADT = 12;
PANELS.forEach(p=>{
  const bottomH = p.bottom ? 58 : 0;
  const padB = p.bottom ? 4 : 12;
  const h = PADT + (p.B-p.T) + bottomH + padB;
  const cv = document.createElement('canvas');
  cv.width = W; cv.height = h;
  cv.style.top = (p.T-PADT)+'px';
  cv.style.width = W+'px'; cv.style.height = h+'px';
  document.body.appendChild(cv);
  const gridCommon = {color:'#222', lineWidth:1, drawTicks:false};
  new Chart(cv.getContext('2d'), {
    type:'line',
    data:{datasets:p.sets.map(s=>({data:toXY(s[0]), borderColor:COL[s[1]], borderWidth:p.lw, pointRadius:0, tension:0, spanGaps:false, clip:0, borderJoinStyle:'round'}))},
    options:{
      responsive:false, animation:false, devicePixelRatio:1,
      layout:{padding:{left:0,right:W-p.R,top:PADT,bottom:padB}},
      plugins:{legend:{display:false}, tooltip:{enabled:false}},
      events:[],
      scales:{
        x:{type:'linear', min:0, max:70,
           afterBuildTicks:s=>fixTicks(s, X_TICKS),
           ticks:{display:!!p.bottom, color:'#000', padding:5, maxRotation:0, autoSkip:false, font:{family:FONT,size:17,weight:'bold'}},
           grid:gridCommon, border:{display:false, dash:[5,4]},
           title:{display:!!p.bottom, text:X_TITLE, color:'#000', padding:0, font:{family:FONT,size:21,weight:'bold'}},
           afterFit:s=>{s.height = bottomH; fixTicks(s, X_TICKS);}},
        y:{min:-50, max:50,
           afterBuildTicks:s=>fixTicks(s, Y_TICKS),
           ticks:{color:'#000', padding:9, autoSkip:false, autoSkipPadding:0, font:{family:FONT,size:17,weight:'bold',lineHeight:1}},
           grid:gridCommon, border:{display:false, dash:[5,4]},
           title:{display:true, text:p.t, color:'#000', padding:{top:9,bottom:0}, font:{family:FONT,size:21,weight:'bold'}},
           afterFit:s=>{s.width = p.L; fixTicks(s, Y_TICKS);}}
      }
    },
    plugins:[framePlugin]
  });
});

LEGENDS.forEach(g=>{
  if(g.box){
    const b=document.createElement('div'); b.className='box';
    b.style.left=g.box[0]+'px'; b.style.top=g.box[1]+'px';
    b.style.width=(g.box[2]-g.box[0])+'px'; b.style.height=(g.box[3]-g.box[1])+'px';
    document.body.appendChild(b);
  }
  g.items.forEach(it=>{
    const l=document.createElement('div'); l.className='ll';
    l.style.left=it[1]+'px'; l.style.width=(it[2]-it[1])+'px'; l.style.top=(g.y-2)+'px';
    l.style.background=COL[it[0]];
    document.body.appendChild(l);
    const t=document.createElement('div'); t.className='lg';
    t.style.left=it[3]+'px'; t.style.top=(g.y-11)+'px'; t.textContent=it[0];
    document.body.appendChild(t);
  });
});
</script>
</body></html>
